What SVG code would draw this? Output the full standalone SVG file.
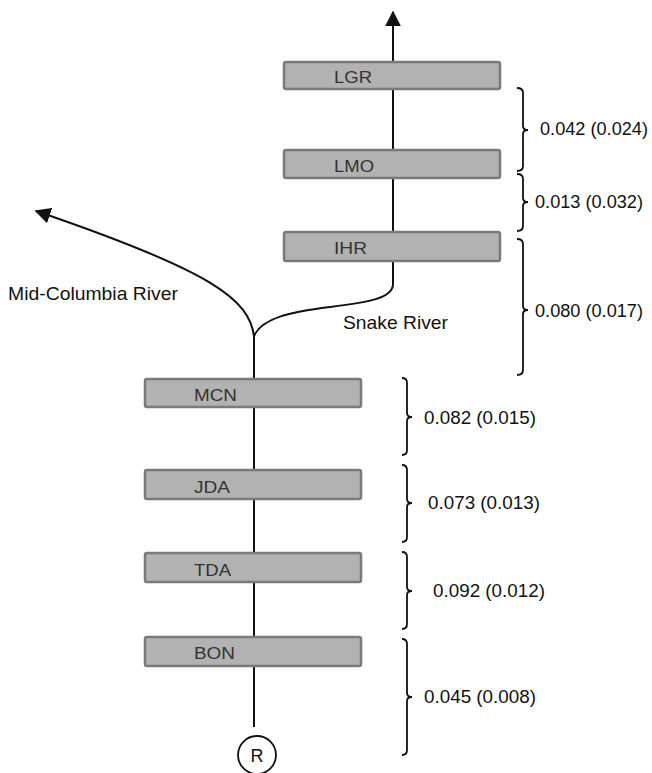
<svg xmlns="http://www.w3.org/2000/svg" width="652" height="773" viewBox="0 0 652 773">
<style>
.box{fill:#b2b2b2;stroke:#7a7a7a;stroke-width:2.5}
.lbl{font-family:"Liberation Sans",Arial,sans-serif;font-size:17px;fill:#333}
.num{font-family:"Liberation Sans",Arial,sans-serif;font-size:18.5px;fill:#111}
.riv{font-family:"Liberation Sans",Arial,sans-serif;font-size:19px;fill:#111}
.ln{fill:none;stroke:#111;stroke-width:2}
.br{fill:none;stroke:#111;stroke-width:1.8}
</style>
<defs>
<marker id="ah2" viewBox="0 0 10 10" refX="9" refY="5" markerWidth="16" markerHeight="16" markerUnits="userSpaceOnUse" orient="auto">
<path d="M0,0 L10,5 L0,10 z" fill="#111"/>
</marker>
</defs>
<g id="connectors">
<path class="ln" d="M393,62 V12" marker-end="url(#ah2)"/>
<path class="ln" d="M393,89 V150"/>
<path class="ln" d="M393,178 V232"/>
<path class="ln" d="M393,261 V284 C393,298 370,302 330,307 C290,312 262,318 254,336"/>
<path class="ln" d="M254,336 C249,300 215,272 36,211" marker-end="url(#ah2)"/>
<path class="ln" d="M254,336 V379"/>
<path class="ln" d="M254,407 V470"/>
<path class="ln" d="M254,499 V553"/>
<path class="ln" d="M254,582 V637"/>
<path class="ln" d="M254,666 V727"/>
</g>
<g id="LGR"><rect class="box" x="284" y="62" width="216" height="27" rx="2"/><text class="lbl" x="334" y="83" textLength="38" lengthAdjust="spacingAndGlyphs">LGR</text></g>
<g id="LMO"><rect class="box" x="284" y="150" width="216" height="28" rx="2"/><text class="lbl" x="334" y="172" textLength="40" lengthAdjust="spacingAndGlyphs">LMO</text></g>
<g id="IHR"><rect class="box" x="284" y="232" width="216" height="29" rx="2"/><text class="lbl" x="334" y="254" textLength="33" lengthAdjust="spacingAndGlyphs">IHR</text></g>
<g id="MCN"><rect class="box" x="145" y="379" width="216" height="28" rx="2"/><text class="lbl" x="194" y="401" textLength="43" lengthAdjust="spacingAndGlyphs">MCN</text></g>
<g id="JDA"><rect class="box" x="145" y="470" width="216" height="29" rx="2"/><text class="lbl" x="194" y="493" textLength="36" lengthAdjust="spacingAndGlyphs">JDA</text></g>
<g id="TDA"><rect class="box" x="145" y="553" width="216" height="29" rx="2"/><text class="lbl" x="194" y="576" textLength="37" lengthAdjust="spacingAndGlyphs">TDA</text></g>
<g id="BON"><rect class="box" x="145" y="637" width="216" height="29" rx="2"/><text class="lbl" x="194" y="659" textLength="41" lengthAdjust="spacingAndGlyphs">BON</text></g>
<g id="R"><circle cx="257" cy="755" r="19" fill="#fff" stroke="#111" stroke-width="1.8"/><text x="257" y="762" text-anchor="middle" font-family="Liberation Sans, Arial, sans-serif" font-size="18" fill="#111">R</text></g>
<g id="rivers">
<text class="riv" x="8" y="300" textLength="170" lengthAdjust="spacingAndGlyphs">Mid-Columbia River</text>
<text class="riv" x="343" y="329" textLength="105" lengthAdjust="spacingAndGlyphs">Snake River</text>
</g>
<g id="brackets">
<path class="br" d="M517,88 Q523,88 523,93 V126 Q523,130 528,130 Q523,130 523,134 V166 Q523,171 517,171"/>
<path class="br" d="M517,174 Q523,174 523,179 V198 Q523,202 528,202 Q523,202 523,206 V226 Q523,231 517,231"/>
<path class="br" d="M517,239 Q523,239 523,244 V306 Q523,310 528,310 Q523,310 523,314 V370 Q523,375 517,375"/>
<path class="br" d="M402,378 Q407,378 407,383 V413 Q407,417 412,417 Q407,417 407,421 V450 Q407,455 402,455"/>
<path class="br" d="M402,465 Q407,465 407,470 V499 Q407,503 412,503 Q407,503 407,507 V537 Q407,542 402,542"/>
<path class="br" d="M402,552 Q407,552 407,557 V587 Q407,591 412,591 Q407,591 407,595 V624 Q407,629 402,629"/>
<path class="br" d="M402,639 Q407,639 407,644 V693 Q407,697 412,697 Q407,697 407,701 V750 Q407,755 402,755"/>
</g>
<g id="values">
<text class="num" x="540" y="135" textLength="108" lengthAdjust="spacingAndGlyphs">0.042 (0.024)</text>
<text class="num" x="535" y="208" textLength="108" lengthAdjust="spacingAndGlyphs">0.013 (0.032)</text>
<text class="num" x="535" y="317" textLength="108" lengthAdjust="spacingAndGlyphs">0.080 (0.017)</text>
<text class="num" x="424" y="424" textLength="112" lengthAdjust="spacingAndGlyphs">0.082 (0.015)</text>
<text class="num" x="428" y="509" textLength="112" lengthAdjust="spacingAndGlyphs">0.073 (0.013)</text>
<text class="num" x="433" y="597" textLength="112" lengthAdjust="spacingAndGlyphs">0.092 (0.012)</text>
<text class="num" x="424" y="703" textLength="112" lengthAdjust="spacingAndGlyphs">0.045 (0.008)</text>
</g>
</svg>
